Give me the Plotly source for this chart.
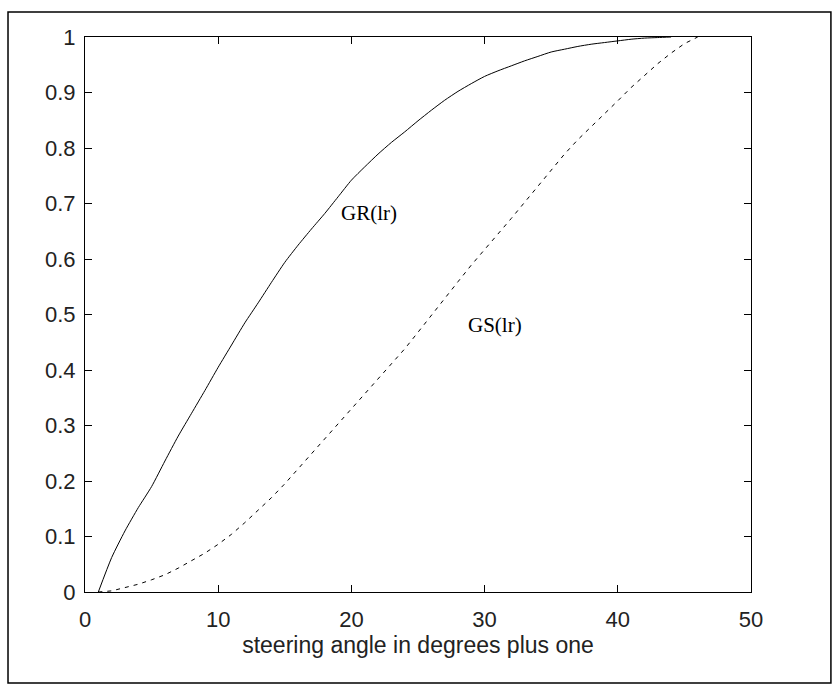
import plotly.graph_objects as go

# steering angle (degrees plus one)
x_gr = list(range(1, 45))
gr = [0.0, 0.062, 0.11, 0.152, 0.19, 0.236, 0.281, 0.322, 0.363, 0.405,
      0.445, 0.485, 0.521, 0.558, 0.594, 0.625, 0.654, 0.682, 0.712, 0.742,
      0.766, 0.789, 0.81, 0.829, 0.849, 0.868, 0.886, 0.902, 0.916, 0.929,
      0.939, 0.948, 0.957, 0.965, 0.973, 0.978, 0.983, 0.987, 0.99, 0.993,
      0.996, 0.998, 0.999, 1.0]

x_gs = list(range(1, 47))
gs = [0.0, 0.002, 0.008, 0.014, 0.022, 0.031, 0.043, 0.056, 0.07, 0.086,
      0.104, 0.125, 0.147, 0.17, 0.195, 0.222, 0.248, 0.274, 0.302, 0.33,
      0.356, 0.383, 0.411, 0.438, 0.468, 0.499, 0.529, 0.559, 0.589, 0.618,
      0.645, 0.673, 0.702, 0.732, 0.762, 0.789, 0.815, 0.838, 0.861, 0.885,
      0.909, 0.931, 0.952, 0.971, 0.988, 1.0]

x_ticks = [0, 10, 20, 30, 40, 50]
y_ticks = [0, 0.1, 0.2, 0.3, 0.4, 0.5, 0.6, 0.7, 0.8, 0.9, 1]
x_title = "steering angle in degrees plus one"
labels = ["GR(lr)", "GS(lr)"]
label_pos = [(21.3, 0.682), (30.8, 0.481)]

fig = go.Figure()
fig.add_trace(go.Scatter(x=x_gr, y=gr, mode="lines",
                         line=dict(color="black", width=1, shape="spline", smoothing=0.6),
                         showlegend=False))
fig.add_trace(go.Scatter(x=x_gs, y=gs, mode="lines",
                         line=dict(color="black", width=1, dash="4px,5px"),
                         showlegend=False))

for t, (lx, ly) in zip(labels, label_pos):
    fig.add_annotation(x=lx, y=ly, text=t, showarrow=False,
                       font=dict(family="Liberation Serif", size=21, color="black"))

axis_common = dict(showline=True, linecolor="black", linewidth=1, mirror="ticks",
                   ticks="inside", ticklen=7, tickcolor="black", tickwidth=1,
                   showgrid=False, zeroline=False,
                   tickfont=dict(family="Liberation Sans, Arial", size=22, color="#222"))

fig.update_layout(
    width=833, height=685,
    margin=dict(l=85, r=82, t=37, b=93),
    paper_bgcolor="white", plot_bgcolor="white",
    xaxis=dict(range=[0, 50], tickvals=x_ticks, ticklabelstandoff=8,
               title=dict(text=x_title, standoff=5,
                          font=dict(family="Liberation Sans, Arial", size=23, color="#222")),
               **axis_common),
    yaxis=dict(range=[0, 1], tickvals=y_ticks, ticklabelstandoff=4, **axis_common),
    shapes=[dict(type="rect", xref="paper", yref="paper",
                 x0=-0.1156, x1=1.12, y0=-0.164, y1=1.045,
                 line=dict(color="black", width=1.5), layer="below")],
)

fig.write_html("out.html")
